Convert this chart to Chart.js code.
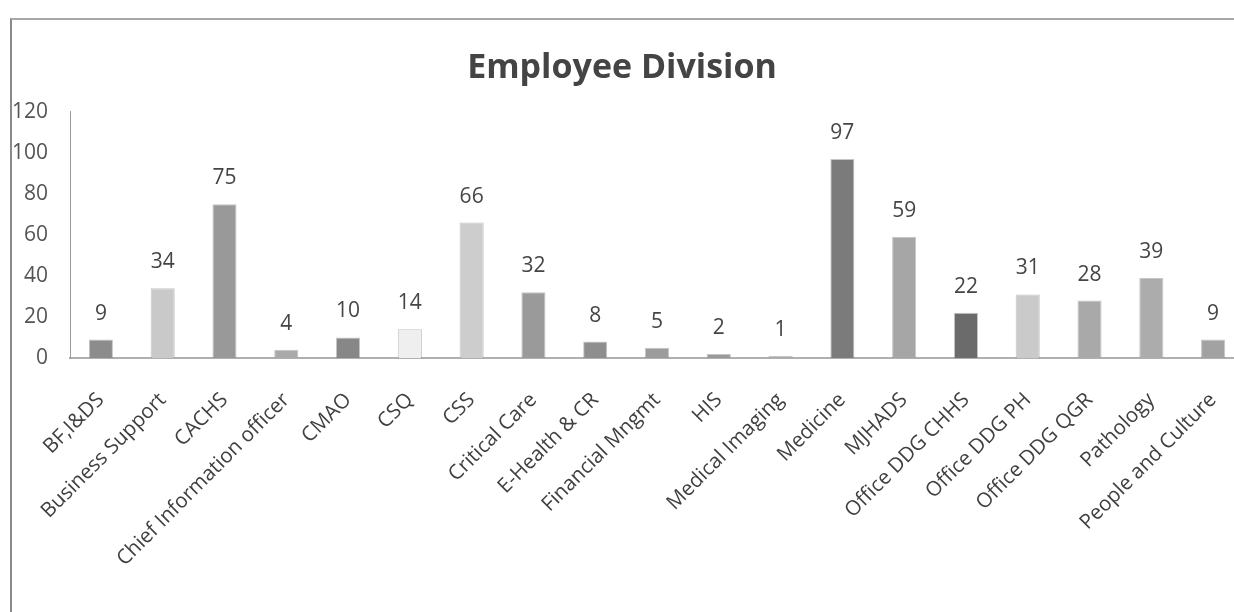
<!DOCTYPE html>
<html>
<head>
<meta charset="utf-8">
<script src="https://cdn.jsdelivr.net/npm/chart.js@4.4.1/dist/chart.umd.min.js"></script>
<style>
  html, body { margin: 0; padding: 0; background: #fff; overflow: hidden; }
  #wrap { position: absolute; left: 0; top: 0; width: 1250px; height: 612px; }
  #frame { position: absolute; left: 10px; top: 18px; width: 1300px; height: 700px;
           border-left: 2px solid #8a8a8a; border-top: 2px solid #a8a8a8; pointer-events: none; }
</style>
</head>
<body>
<div id="wrap"><canvas id="chart" width="1250" height="612"></canvas></div>
<div id="frame"></div>
<script>
// Head-count per division
const divisions = [
  'BF,I&DS', 'Business Support', 'CACHS', 'Chief Information officer', 'CMAO',
  'CSQ', 'CSS', 'Critical Care', 'E-Health & CR', 'Financial Mngmt',
  'HIS', 'Medical Imaging', 'Medicine', 'MJHADS', 'Office DDG CHHS',
  'Office DDG PH', 'Office DDG QGR', 'Pathology', 'People and Culture'
];
const employees = [9, 34, 75, 4, 10, 14, 66, 32, 8, 5, 2, 1, 97, 59, 22, 31, 28, 39, 9];
const barShades = [
  '#8c8c8c', '#c9c9c9', '#999999', '#a9a9a9', '#878787',
  '#efefef', '#cdcdcd', '#9a9a9a', '#8e8e8e', '#9c9c9c',
  '#9a9a9a', '#ababab', '#7b7b7b', '#a6a6a6', '#6b6b6b',
  '#cacaca', '#a9a9a9', '#acacac', '#a2a2a2'
];
const yTicks = [0, 20, 40, 60, 80, 100, 120];

const FONT = '"Open Sans", sans-serif';

// Value printed above each bar
const valueLabels = {
  id: 'valueLabels',
  afterDatasetsDraw(chart) {
    const ctx = chart.ctx;
    const meta = chart.getDatasetMeta(0);
    ctx.save();
    ctx.font = '21px ' + FONT;
    ctx.fillStyle = '#454545';
    ctx.textAlign = 'center';
    ctx.textBaseline = 'middle';
    meta.data.forEach((bar, i) => {
      ctx.fillText(String(employees[i]), bar.x, bar.y - 26);
    });
    ctx.restore();
  }
};

new Chart(document.getElementById('chart'), {
  type: 'bar',
  data: {
    labels: divisions,
    datasets: [{
      data: employees,
      backgroundColor: barShades,
      borderColor: 'rgba(90,90,90,0.35)',
      borderWidth: 1,
      categoryPercentage: 1.0,
      barPercentage: 0.39
    }]
  },
  options: {
    responsive: false,
    animation: false,
    layout: { padding: { left: 0, right: 6, top: 0, bottom: 0 } },
    plugins: {
      legend: { display: false },
      tooltip: { enabled: false },
      title: {
        display: true,
        text: 'Employee Division',
        color: '#444444',
        font: { family: FONT, size: 34, weight: 'bold' },
        padding: { top: 48, bottom: 23 }
      }
    },
    scales: {
      x: {
        grid: { display: false, drawTicks: false },
        border: { display: true, color: '#b0b0b0', width: 2 },
        ticks: {
          color: '#404040',
          font: { family: FONT, size: 20.5 },
          maxRotation: 45, minRotation: 45,
          autoSkip: false,
          padding: 30
        },
        // let the rotated labels run past the plot edges
        afterFit(axis) {
          axis.paddingLeft = 0;
          axis.paddingRight = 0;
          axis.height = 254;
        }
      },
      y: {
        min: 0, max: 120,
        afterBuildTicks(axis) { axis.ticks = yTicks.map(v => ({ value: v })); },
        afterFit(axis) { axis.width = 70; },
        grid: { display: false, drawTicks: false },
        border: { display: true, color: '#9a9a9a', width: 1 },
        ticks: {
          color: '#555555',
          font: { family: FONT, size: 21 },
          padding: 22
        }
      }
    }
  },
  plugins: [valueLabels]
});
</script>
</body>
</html>
